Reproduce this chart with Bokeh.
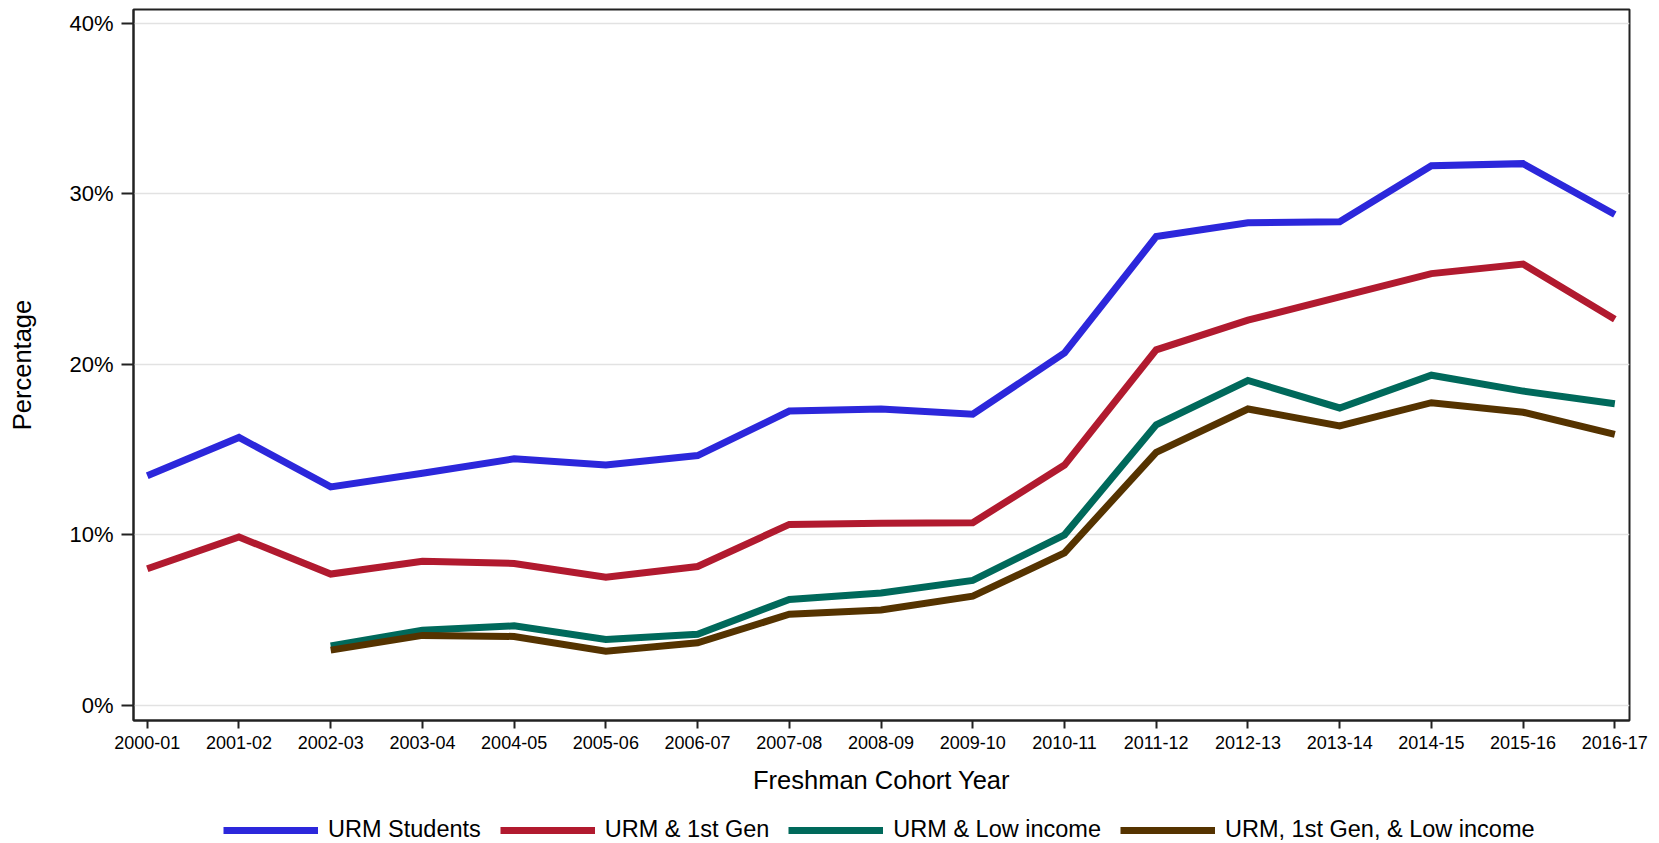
import math
from bokeh.plotting import figure
from bokeh.layouts import column
from bokeh.models import (Range1d, FixedTicker, PrintfTickFormatter, Legend, LegendItem,
                          ColumnDataSource)
from bokeh.embed import file_html
from bokeh.resources import INLINE

NaN = float("nan")

cohorts = ["2000-01", "2001-02", "2002-03", "2003-04", "2004-05", "2005-06", "2006-07",
           "2007-08", "2008-09", "2009-10", "2010-11", "2011-12", "2012-13", "2013-14",
           "2014-15", "2015-16", "2016-17"]

urm_students = [13.46, 15.7, 12.8, 13.6, 14.45, 14.08, 14.64, 17.25, 17.37, 17.06, 20.66,
                27.48, 28.29, 28.35, 31.64, 31.76, 28.78]
urm_first_gen = [8.0, 9.86, 7.69, 8.44, 8.31, 7.5, 8.13, 10.6, 10.67, 10.7, 14.08,
                 20.84, 22.58, 23.95, 25.31, 25.87, 22.64]
urm_low_income = [NaN, NaN, 3.47, 4.4, 4.65, 3.85, 4.16, 6.2, 6.58, 7.32, 9.99,
                  16.44, 19.04, 17.43, 19.35, 18.42, 17.68]
urm_first_gen_low_income = [NaN, NaN, 3.23, 4.09, 4.03, 3.16, 3.66, 5.33, 5.58, 6.39, 8.93,
                            14.83, 17.37, 16.38, 17.74, 17.18, 15.88]

series_names = ["URM Students", "URM & 1st Gen", "URM & Low income", "URM, 1st Gen, & Low income"]
series_values = [urm_students, urm_first_gen, urm_low_income, urm_first_gen_low_income]
series_colors = ["#2C27DB", "#B11A2F", "#00695B", "#553300"]

y_ticks = [0, 10, 20, 30, 40]

FONT = "Liberation Sans"
x_idx = list(range(len(cohorts)))

p = figure(width=1651, height=798, output_backend="svg", toolbar_location=None,
           x_range=Range1d(-0.15, 16.16), y_range=Range1d(-0.9, 40.8),
           min_border_left=133, min_border_right=22, min_border_top=9, min_border_bottom=78)
p.background_fill_color = "white"
p.border_fill_color = "white"
p.outline_line_color = "#222222"
p.outline_line_width = 2

p.xgrid.visible = False
p.ygrid.grid_line_color = "#e2e2e2"
p.ygrid.grid_line_width = 1.5

xa = p.xaxis[0]
xa.ticker = FixedTicker(ticks=x_idx)
xa.major_label_overrides = {i: c for i, c in zip(x_idx, cohorts)}
xa.major_tick_out = 8
xa.major_tick_in = 0
xa.minor_tick_out = 0
xa.minor_tick_in = 0
xa.major_tick_line_width = 2
xa.major_tick_line_color = "#222222"
xa.axis_line_width = 2
xa.axis_line_color = "#222222"
xa.major_label_text_font = FONT
xa.major_label_text_font_size = "18px"
xa.major_label_text_color = "black"
xa.major_label_standoff = 7
xa.axis_label = "Freshman Cohort Year"
xa.axis_label_text_font = FONT
xa.axis_label_text_font_size = "25.5px"
xa.axis_label_text_font_style = "normal"
xa.axis_label_text_color = "black"
xa.axis_label_standoff = 14

ya = p.yaxis[0]
ya.ticker = FixedTicker(ticks=y_ticks)
ya.formatter = PrintfTickFormatter(format="%d%%")
ya.major_tick_out = 12
ya.major_tick_in = 0
ya.minor_tick_out = 0
ya.minor_tick_in = 0
ya.major_tick_line_width = 2
ya.major_tick_line_color = "#222222"
ya.axis_line_width = 2
ya.axis_line_color = "#222222"
ya.major_label_text_font = FONT
ya.major_label_text_font_size = "22px"
ya.major_label_text_color = "black"
ya.major_label_standoff = 8
ya.axis_label = "Percentage"
ya.axis_label_text_font = FONT
ya.axis_label_text_font_size = "25.5px"
ya.axis_label_text_font_style = "normal"
ya.axis_label_text_color = "black"
ya.axis_label_standoff = 30

# legend strip below the chart (its frame is aligned with the chart's frame)
pl = figure(width=1651, height=45, output_backend="svg", toolbar_location=None,
            x_range=Range1d(1000, 1001), y_range=Range1d(1000, 1001),
            x_axis_type=None, y_axis_type=None, min_border=0)
pl.outline_line_color = None
pl.background_fill_color = "white"
pl.border_fill_color = "white"

items = []
for name, vals, col in zip(series_names, series_values, series_colors):
    src = ColumnDataSource(dict(x=x_idx, y=vals))
    p.line("x", "y", source=src, line_color=col, line_width=7, line_join="miter",
           line_cap="butt")
    r = pl.line("x", "y", source=src, line_color=col, line_width=7, line_cap="butt")
    items.append(LegendItem(label=name, renderers=[r]))

legend = Legend(items=items, location=(90, 0), orientation="horizontal",
                padding=0, margin=0, spacing=19, label_standoff=10,
                glyph_width=95, glyph_height=20,
                label_text_font=FONT, label_text_font_size="23.5px", label_text_color="black",
                border_line_color=None, background_fill_alpha=0)
pl.add_layout(legend)

layout = column(p, pl, spacing=0)
open("out.html", "w").write(file_html(layout, INLINE))
